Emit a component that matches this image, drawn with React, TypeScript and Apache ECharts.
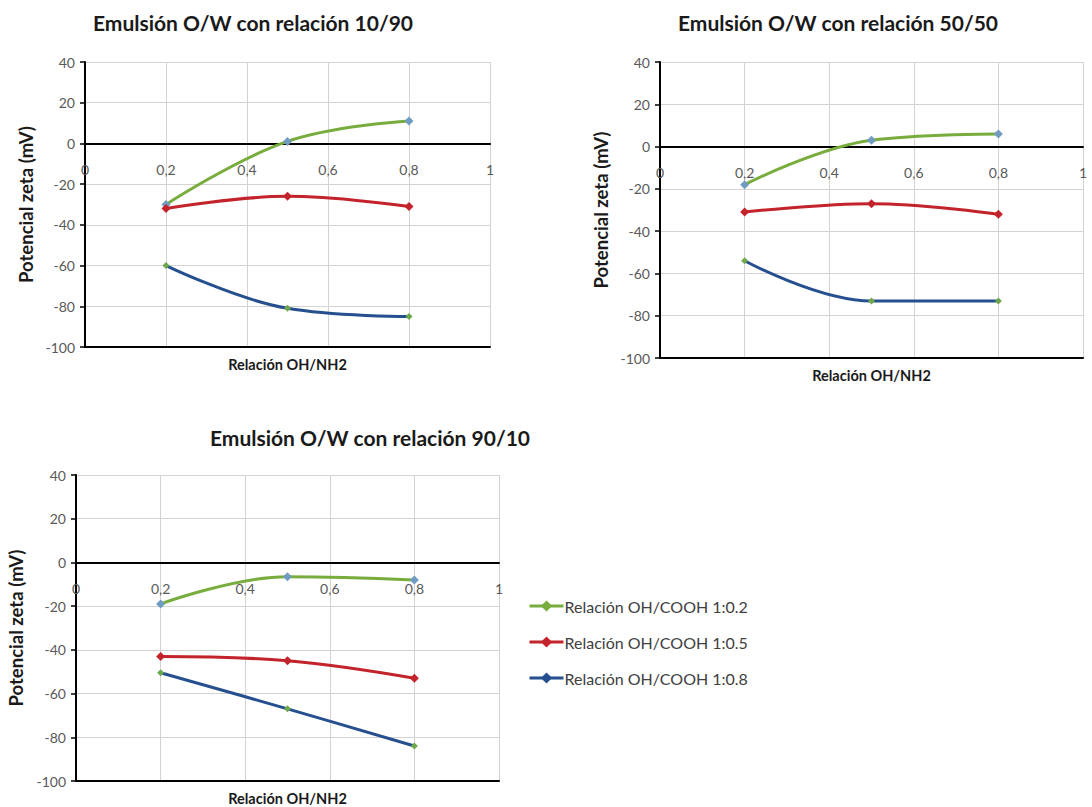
import React, { useEffect, useRef } from "react";
import * as echarts from "echarts";

const xValues = [0.2, 0.5, 0.8];
const seriesNames = ["Relación OH/COOH 1:0.2", "Relación OH/COOH 1:0.5", "Relación OH/COOH 1:0.8"];
const titles = ["Emulsión O/W con relación 10/90", "Emulsión O/W con relación 50/50", "Emulsión O/W con relación 90/10"];
// chart 1 (10/90)
const c1Green = [-30, 1, 11];
const c1Red = [-32, -26, -31];
const c1Blue = [-60, -81, -85];
// chart 2 (50/50)
const c2Green = [-18, 3, 6];
const c2Red = [-31, -27, -32];
const c2Blue = [-54, -73, -73];
// chart 3 (90/10)
const c3Green = [-19, -6.5, -8];
const c3Red = [-43, -45, -53];
const c3Blue = [-50.5, -67, -84];

const chartData = [
  [c1Green, c1Red, c1Blue],
  [c2Green, c2Red, c2Blue],
  [c3Green, c3Red, c3Blue],
];

const yMin = -100;
const yMax = 40;

const lineColors = ["#78ad3e", "#c3232b", "#254f8e"];
const markerColors = ["#6f9cc0", "#c3232b", "#6fa84a"];
const markerSizes = [9, 9, 7];

const grids = [
  { left: 85, top: 62, width: 405, height: 285 },
  { left: 660, top: 62, width: 423, height: 296 },
  { left: 76, top: 475, width: 423, height: 306 },
];
const titlePos = [
  { x: 253, y: 22 },
  { x: 838, y: 22 },
  { x: 370, y: 437 },
];
const yNameGaps = [50, 50, 51];

export default function App() {
  const ref = useRef<HTMLDivElement>(null);
  useEffect(() => {
    if (!ref.current) return;
    const chart = echarts.init(ref.current, undefined, { renderer: "svg" });
    const xAxis: any[] = [];
    const yAxis: any[] = [];
    const series: any[] = [];
    grids.forEach((g, gi) => {
      const zeroOffset = (g.height * (0 - yMin)) / (yMax - yMin);
      xAxis.push({
        type: "value",
        gridIndex: gi,
        min: 0,
        max: 1,
        interval: 0.2,
        position: "bottom",
        offset: -zeroOffset,
        axisLine: { show: true, onZero: false, lineStyle: { color: "#000", width: 2 } },
        axisTick: { show: false },
        axisLabel: {
          color: "#595959",
          fontFamily: "Lato",
          fontSize: 14,
          margin: 19,
          formatter: (v: number) => String(Math.round(v * 10) / 10).replace(".", ","),
        },
        splitLine: { show: true, lineStyle: { color: "#d3d3d3", width: 1 } },
      });
      yAxis.push({
        type: "value",
        gridIndex: gi,
        min: yMin,
        max: yMax,
        interval: 20,
        name: "Potencial zeta (mV)",
        nameLocation: "middle",
        nameGap: yNameGaps[gi],
        nameRotate: 90,
        nameTextStyle: { color: "#1a1a1a", fontFamily: "Lato", fontWeight: "bold", fontSize: 18.5 },
        axisLine: { show: true, onZero: false, lineStyle: { color: "#000", width: 2 } },
        axisTick: { show: true, inside: false, length: 5, lineStyle: { color: "#000", width: 1.5 } },
        axisLabel: { color: "#595959", fontFamily: "Lato", fontSize: 14, margin: 10 },
        splitLine: { show: true, lineStyle: { color: "#d3d3d3", width: 1 } },
      });
    });
    grids.forEach((g, gi) => {
      xAxis.push({
        type: "value",
        gridIndex: gi,
        min: 0,
        max: 1,
        position: "bottom",
        name: "Relación OH/NH2",
        nameLocation: "middle",
        nameGap: 10,
        nameTextStyle: { color: "#1a1a1a", fontFamily: "Lato", fontWeight: "bold", fontSize: 14.5 },
        axisLine: { show: true, onZero: false, lineStyle: { color: "#000", width: 2 } },
        axisTick: { show: false },
        axisLabel: { show: false },
        splitLine: { show: false },
      });
    });
    chartData.forEach((sets, gi) => {
      sets.forEach((vals, si) => {
        series.push({
          type: "line",
          name: seriesNames[si],
          xAxisIndex: gi,
          yAxisIndex: gi,
          smooth: 0.4,
          data: xValues.map((x, i) => [x, vals[i]]),
          symbol: "diamond",
          symbolSize: markerSizes[si],
          lineStyle: { color: lineColors[si], width: 3 },
          itemStyle: { color: markerColors[si] },
          z: 3,
        });
      });
    });
    chart.setOption({
      animation: false,
      backgroundColor: "#ffffff",
      grid: grids.map((g) => ({ ...g, outerBoundsMode: "none", containLabel: false })),
      xAxis,
      yAxis,
      series,
      legend: {
        orient: "vertical",
        left: 523,
        top: 593,
        itemGap: 20,
        itemWidth: 34,
        itemHeight: 14,
        textStyle: { color: "#404040", fontFamily: "Lato", fontSize: 16, lineHeight: 16, padding: [0, 0, 0, -4] },
        data: seriesNames.map((n, i) => ({
          name: n,
          itemStyle: { color: lineColors[i] },
          lineStyle: { color: lineColors[i], width: 3 },
        })),
      },
      graphic: titlePos.map((p, i) => ({
        type: "text",
        x: p.x,
        y: p.y,
        style: {
          text: titles[i],
          fill: "#1a1a1a",
          font: "bold 21px Lato",
          textAlign: "center",
          textVerticalAlign: "middle",
        },
      })),
    });
    return () => chart.dispose();
  }, []);
  return (
    <div
      ref={ref}
      style={{ position: "fixed", left: 0, top: 0, width: 1092, height: 807 }}
    />
  );
}
